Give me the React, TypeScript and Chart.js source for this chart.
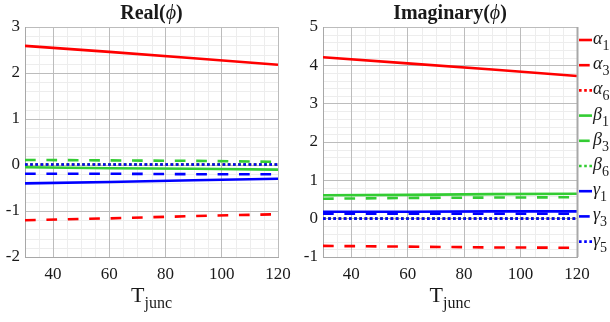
import React, { useEffect, useRef } from 'react';
import { Chart, registerables } from 'chart.js';

Chart.register(...registerables);

// ---------- data ----------
const T = [30, 60, 90, 120];
const xTicks = [40, 60, 80, 100, 120];
const realTicks = [-2, -1, 0, 1, 2, 3];
const imagTicks = [-1, 0, 1, 2, 3, 4, 5];

const seriesSymbols = ['α', 'α', 'α', 'β', 'β', 'β', 'γ', 'γ', 'γ'];
const seriesSubs = ['1', '3', '6', '1', '3', '6', '1', '3', '5'];
const seriesColors = ['#ff0000', '#ff0000', '#ff0000', '#33cc33', '#33cc33', '#33cc33', '#0000ff', '#0000ff', '#0000ff'];
const seriesStyles = ['solid', 'dash', 'dot', 'solid', 'dash', 'dot', 'solid', 'dash', 'dot'];

// Real part
const realA1 = [2.59, 2.46, 2.32, 2.18];
const realA3 = [-1.2, -1.16, -1.11, -1.07];
const realA6 = [0.01, 0.01, 0.01, 0.01];
const realB1 = [-0.05, -0.07, -0.08, -0.1];
const realB3 = [0.11, 0.1, 0.09, 0.07];
const realB6 = [0.01, 0.01, 0.01, 0.01];
const realG1 = [-0.4, -0.37, -0.33, -0.3];
const realG3 = [-0.19, -0.19, -0.2, -0.2];
const realG5 = [0.01, 0.01, 0.01, 0.01];

// Imaginary part
const imagA1 = [4.21, 4.05, 3.89, 3.72];
const imagA3 = [-0.71, -0.73, -0.75, -0.76];
const imagA6 = [0, 0, 0, 0];
const imagB1 = [0.61, 0.62, 0.64, 0.65];
const imagB3 = [0.52, 0.54, 0.55, 0.56];
const imagB6 = [0, 0, 0, 0];
const imagG1 = [0.18, 0.18, 0.19, 0.19];
const imagG3 = [0.13, 0.13, 0.13, 0.13];
const imagG5 = [0, 0, 0, 0];

const realSeries = [realA1, realA3, realA6, realB1, realB3, realB6, realG1, realG3, realG5];
const imagSeries = [imagA1, imagA3, imagA6, imagB1, imagB3, imagB6, imagG1, imagG3, imagG5];

// ---------- styling ----------
const SERIF = "'Liberation Serif', 'Times New Roman', serif";
const GRID = '#bcbcbc';
const MINOR = '#ededed';
const BORDER = '#a8a8a8';
const TEXT = '#1a1a1a';
const LINE_W = 2.6;

function dashFor(style: string): number[] {
  if (style === 'dash') return [10.7, 10.7];
  if (style === 'dot') return [2.6, 2.6];
  return [];
}

function makeDatasets(series: number[][]) {
  return series.map((vals, i) => ({
    label: seriesSymbols[i] + seriesSubs[i],
    data: vals.map((v, j) => ({ x: T[j], y: v })),
    borderColor: seriesColors[i],
    backgroundColor: seriesColors[i],
    borderWidth: LINE_W,
    borderDash: dashFor(seriesStyles[i]),
    pointRadius: 0,
    tension: 0,
    fill: false,
    order: series.length - i,
  }));
}

const minorGridPlugin = {
  id: 'minorGrid',
  beforeDraw(chart: any) {
    const { ctx, chartArea } = chart;
    const xs = chart.scales.x;
    const ys = chart.scales.y;
    ctx.save();
    ctx.strokeStyle = MINOR;
    ctx.lineWidth = 1;
    for (let v = 30; v <= 120; v += 5) {
      if (v % 20 === 0) continue;
      const px = Math.round(xs.getPixelForValue(v)) + 0.5;
      ctx.beginPath();
      ctx.moveTo(px, chartArea.top);
      ctx.lineTo(px, chartArea.bottom);
      ctx.stroke();
    }
    const n = Math.round((ys.max - ys.min) * 5);
    for (let k = 0; k <= n; k++) {
      if (k % 5 === 0) continue;
      const v = ys.min + k * 0.2;
      const py = Math.round(ys.getPixelForValue(v)) + 0.5;
      ctx.beginPath();
      ctx.moveTo(chartArea.left, py);
      ctx.lineTo(chartArea.right, py);
      ctx.stroke();
    }
    ctx.restore();
  },
};

function drawTitles(chart: any, title: string) {
  const { ctx, chartArea } = chart;
  const cx = (chartArea.left + chartArea.right) / 2;
  ctx.save();
  ctx.fillStyle = TEXT;
  ctx.textBaseline = 'alphabetic';
  ctx.textAlign = 'left';
  const parts = [
    { t: title + '(', f: `bold 20px ${SERIF}` },
    { t: 'ϕ', f: `italic 20px ${SERIF}` },
    { t: ')', f: `bold 20px ${SERIF}` },
  ];
  let total = 0;
  parts.forEach((p) => { ctx.font = p.f; total += ctx.measureText(p.t).width; });
  let x = cx - total / 2;
  parts.forEach((p) => { ctx.font = p.f; ctx.fillText(p.t, x, 19); x += ctx.measureText(p.t).width; });

  ctx.font = `22px ${SERIF}`;
  const wT = ctx.measureText('T').width;
  ctx.font = `16px ${SERIF}`;
  const wS = ctx.measureText('junc').width;
  const x0 = cx - (wT + wS) / 2;
  ctx.font = `22px ${SERIF}`;
  ctx.fillText('T', x0, 302);
  ctx.font = `16px ${SERIF}`;
  ctx.fillText('junc', x0 + wT, 308);
  ctx.restore();
}

function drawLegend(chart: any) {
  const { ctx, chartArea } = chart;
  ctx.save();
  ctx.strokeStyle = BORDER;
  ctx.lineWidth = 2;
  ctx.beginPath();
  ctx.moveTo(chartArea.right + 0.5, chartArea.top);
  ctx.lineTo(chartArea.right + 0.5, chartArea.bottom);
  ctx.stroke();

  const x1 = chartArea.right + 2;
  const x2 = x1 + 13;
  for (let i = 0; i < seriesSymbols.length; i++) {
    const y = 40 + i * 25.2;
    ctx.strokeStyle = seriesColors[i];
    ctx.lineWidth = LINE_W;
    ctx.setLineDash(dashFor(seriesStyles[i]));
    ctx.beginPath();
    ctx.moveTo(x1, y);
    ctx.lineTo(x2, y);
    ctx.stroke();
    ctx.setLineDash([]);
    ctx.fillStyle = TEXT;
    ctx.textAlign = 'left';
    ctx.textBaseline = 'alphabetic';
    ctx.font = `italic 18px ${SERIF}`;
    ctx.fillText(seriesSymbols[i], x2 + 1, y + 4);
    const w = ctx.measureText(seriesSymbols[i]).width;
    ctx.font = `14px ${SERIF}`;
    ctx.fillText(seriesSubs[i], x2 + 1 + w, y + 10);
  }
  ctx.restore();
}

function makeConfig(
  series: number[][],
  yMin: number,
  yMax: number,
  yTicks: number[],
  title: string,
  yWidth: number,
  padRight: number,
  withLegend: boolean,
) {
  const overlay = {
    id: 'overlay',
    afterDraw(chart: any) {
      drawTitles(chart, title);
      if (withLegend) drawLegend(chart);
    },
  };
  return {
    type: 'line' as const,
    data: { datasets: makeDatasets(series) },
    options: {
      responsive: false,
      animation: false,
      events: [],
      layout: { padding: { top: 27, left: 0, right: padRight, bottom: 0 } },
      plugins: { legend: { display: false }, tooltip: { enabled: false }, title: { display: false } },
      scales: {
        x: {
          type: 'linear',
          min: 30,
          max: 120,
          afterBuildTicks: (s: any) => { s.ticks = xTicks.map((v) => ({ value: v })); },
          afterFit: (s: any) => { s.height = 65; },
          grid: { color: GRID, lineWidth: 1, drawTicks: false },
          border: { color: BORDER, width: 1 },
          ticks: { font: { family: SERIF, size: 17 }, color: TEXT, padding: 7, maxRotation: 0, autoSkip: false },
        },
        y: {
          type: 'linear',
          min: yMin,
          max: yMax,
          afterBuildTicks: (s: any) => { s.ticks = yTicks.map((v) => ({ value: v })); },
          afterFit: (s: any) => { s.width = yWidth; },
          grid: { color: GRID, lineWidth: 1, drawTicks: false },
          border: { color: BORDER, width: 1 },
          ticks: { font: { family: SERIF, size: 17 }, color: TEXT, padding: 5, autoSkip: false },
        },
      },
    },
    plugins: [minorGridPlugin, overlay],
  };
}

export default function App() {
  const leftRef = useRef<HTMLCanvasElement>(null);
  const rightRef = useRef<HTMLCanvasElement>(null);

  useEffect(() => {
    const c1 = new Chart(leftRef.current as HTMLCanvasElement, makeConfig(realSeries, -2, 3, realTicks, 'Real', 25, 22, false) as any);
    const c2 = new Chart(rightRef.current as HTMLCanvasElement, makeConfig(imagSeries, -1, 5, imagTicks, 'Imaginary', 23, 33, true) as any);
    return () => { c1.destroy(); c2.destroy(); };
  }, []);

  return (
    <div style={{ position: 'fixed', left: 0, top: 0, width: 610, height: 322, background: '#fff' }}>
      <canvas ref={leftRef} width={300} height={322} style={{ position: 'absolute', left: 0, top: 0, width: 300, height: 322 }} />
      <canvas ref={rightRef} width={310} height={322} style={{ position: 'absolute', left: 300, top: 0, width: 310, height: 322 }} />
    </div>
  );
}
